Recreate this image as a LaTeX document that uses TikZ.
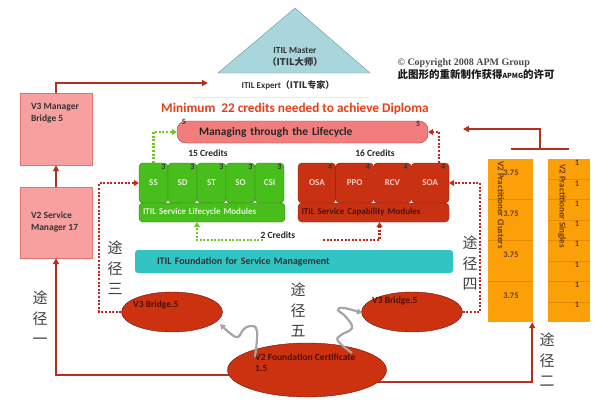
\documentclass[tikz,border=0pt]{standalone}
\usepackage{fontspec}
\setmainfont{Carlito}
\newfontfamily\cjk{Noto Sans CJK SC}
\newfontfamily\serifcopy{Liberation Serif}
\usetikzlibrary{shapes, arrows.meta, positioning, calc}

\definecolor{lineRed}{RGB}{178,48,30}
\definecolor{boxPink}{RGB}{248,160,160}
\definecolor{boxPinkLine}{RGB}{225,115,115}
\definecolor{modGreen}{RGB}{72,190,28}
\definecolor{modGreenLine}{RGB}{45,120,15}
\definecolor{modGreenText}{RGB}{225,245,210}
\definecolor{modRed}{RGB}{200,50,18}
\definecolor{modRedLine}{RGB}{140,28,8}
\definecolor{modRedText}{RGB}{250,205,195}
\definecolor{ellRed}{RGB}{204,50,16}
\definecolor{ellLine}{RGB}{110,20,8}
\definecolor{ellText}{RGB}{80,15,5}
\definecolor{fndTeal}{RGB}{50,195,195}
\definecolor{triTeal}{RGB}{168,214,220}
\definecolor{triLine}{RGB}{110,150,160}
\definecolor{colOrange}{RGB}{252,160,10}
\definecolor{colLine}{RGB}{228,138,0}
\definecolor{colText}{RGB}{110,60,10}
\definecolor{mngPink}{RGB}{242,125,125}
\definecolor{mngLine}{RGB}{170,60,60}
\definecolor{titleRed}{RGB}{232,62,24}
\definecolor{dotGreen}{RGB}{110,200,40}
\definecolor{dotRed}{RGB}{190,40,30}
\definecolor{waveGray}{RGB}{165,165,165}

\begin{document}
\begin{tikzpicture}[x=1pt, y=-1pt,
  redline/.style={draw=lineRed, line width=2pt, -{Triangle[length=6pt,width=6pt]}},
  greendot/.style={draw=dotGreen, line width=2.2pt, dash pattern=on 2pt off 1.6pt, -{Triangle[length=5pt,width=6pt]}},
  reddot/.style={draw=dotRed, line width=2.2pt, dash pattern=on 2pt off 1.6pt, -{Triangle[length=5pt,width=6pt]}},
  wave/.style={draw=waveGray, line width=2.2pt, -{Triangle[length=5pt,width=6pt]}},
  mgrbox/.style={draw=boxPinkLine, fill=boxPink, minimum width=72pt},
  boxtext/.style={align=left, inner sep=0pt, font=\fontsize{9.5}{12}\bfseries\selectfont, text=black!80},
  gmod/.style={draw=modGreenLine, fill=modGreen, rounded corners=4pt, minimum height=40pt, font=\fontsize{9}{10}\bfseries\selectfont, text=modGreenText},
  rmod/.style={draw=modRedLine, fill=modRed, rounded corners=4pt, minimum height=40pt, font=\fontsize{9}{10}\bfseries\selectfont, text=modRedText},
  credit/.style={inner sep=0.5pt, font=\fontsize{8}{8}\bfseries\selectfont, text=black!80},
  credtxt/.style={font=\fontsize{9.5}{11}\bfseries\selectfont, text=black!85},
  ell/.style={ellipse, draw=ellLine, fill=ellRed},
  elltxt/.style={anchor=west, align=left, inner sep=0pt, font=\fontsize{9.5}{11}\bfseries\selectfont, text=ellText},
  colbox/.style={fill=colOrange, draw=none, minimum height=163pt},
  colsep/.style={draw=colLine, line width=0.5pt},
  coltitle/.style={rotate=-90, anchor=west, inner sep=0pt, font=\fontsize{9}{10}\bfseries\selectfont, text=colText},
  valtxt/.style={inner sep=0pt, font=\fontsize{8.5}{9}\bfseries\selectfont, text=colText},
  pathlbl/.style={align=center, inner sep=0pt, font=\cjk\fontsize{15}{20.5}\selectfont, text=black!75}]

  \fill[white] (0,0) rectangle (594,402);
  \useasboundingbox (0,0) rectangle (594,402);

  % top: master triangle, expert, copyright
  \draw[fill=triTeal, draw=triLine] (218,73) -- (295,8) -- (370,73) -- cycle;
  \node[align=center, font=\fontsize{9.3}{12}\bfseries\selectfont, text=black!80] (master) at (295,57)
    {ITIL Master\\{\cjk\bfseries （ITIL大师）}};
  \node[font=\fontsize{9}{10}\bfseries\selectfont, text=black!80] (expert) at (288,85)
    {ITIL Expert{\cjk\bfseries （ITIL专家）}};
  \draw[black!8, line width=0.8pt] (192,97) -- (370,97);
  \node[anchor=west, font=\serifcopy\bfseries\fontsize{10}{12}\selectfont, text=black!70] (copy) at (394,63)
    {© Copyright 2008 APM Group};
  \node[anchor=west, font=\cjk\bfseries\fontsize{10.5}{12}\selectfont, text=black!90] (permit) at (394,75)
    {此图形的重新制作获得{\fontsize{7}{8}\selectfont APMG}的许可};

  \node[font=\bfseries\fontsize{13.3}{15}\selectfont, text=titleRed] (title) at (295,109)
    {Minimum\ \ 22 credits needed to achieve Diploma};

  % manager boxes on the left
  \node[mgrbox, minimum height=72pt] (v3mb) at (56,129) {};
  \node[boxtext, below right=10pt and 11pt of v3mb.north west] {V3 Manager\\Bridge 5};
  \node[mgrbox, minimum height=71pt] (v2sm) at (56,222.5) {};
  \node[boxtext, below right=25pt and 11pt of v2sm.north west] {V2 Service\\Manager 17};

  % managing through the lifecycle
  \node[draw=mngLine, fill=mngPink, rounded corners=9pt, minimum height=22pt, text width=207pt, inner xsep=22pt,
    align=left, font=\fontsize{11.5}{13}\bfseries\selectfont, text=black!85] (manage) at (302.5,132)
    {Managing through the Lifecycle};
  \node[credit] at ([xshift=7pt,yshift=-1pt]manage.north west) {5};
  \node[credit] at ([xshift=-10pt,yshift=-3pt]manage.north east) {5};

  \node[credtxt] (cr15) at (208,153) {15 Credits};
  \node[credtxt] (cr16) at (375,153) {16 Credits};

  % lifecycle modules
  \foreach \m [count=\i] in {SS,SD,ST,SO,CSI} {
    \node[gmod, minimum width=29pt] (g\i) at ({139+29*(\i-0.5)},183) {\m};
    \node[credit, anchor=north east] at ([xshift=-2pt,yshift=-1pt]g\i.north east) {3};
  }
  \node[gmod, minimum width=146pt, minimum height=19pt, text width=138pt, align=left] (gbar) at (212,212.5)
    {ITIL Service Lifecycle Modules};

  % capability modules
  \foreach \m [count=\i] in {OSA,PPO,RCV,SOA} {
    \node[rmod, minimum width=37.75pt] (r\i) at ({298+37.75*(\i-0.5)},183) {\m};
    \node[credit, anchor=north east] at ([xshift=-3pt,yshift=-1pt]r\i.north east) {4};
  }
  \node[rmod, minimum width=151pt, minimum height=19pt, text width=144pt, align=left, text=ellText] (rbar) at (373.5,212.5)
    {ITIL Service Capability Modules};

  \node[credtxt] (cr2) at (278,235) {2 Credits};
  \coordinate (cr2l) at (263,240);
  \coordinate (cr2r) at (323,240);

  % foundation
  \node[fill=fndTeal, rounded corners=3pt, minimum width=318pt, minimum height=23pt, text width=274pt, align=left,
    font=\fontsize{10}{12}\bfseries\selectfont, text=black!80] (fnd) at (294,261.5)
    {ITIL Foundation for Service Management};

  % bridges and V2 foundation
  \node[ell, minimum width=101pt, minimum height=40pt] (b3l) at (172,312) {};
  \node[ell, minimum width=101pt, minimum height=40pt] (b3r) at (412,312) {};
  \node[ell, minimum width=159pt, minimum height=54pt] (v2found) at (307,370) {};
  \node[elltxt] at (133,305) {V3 Bridge.5};
  \node[elltxt] at (372,301) {V3 Bridge.5};
  \node[elltxt] at (255,363) {V2 Foundation Certificate\\1.5};

  % practitioner columns
  \node[colbox, minimum width=45pt] (clus) at (510.5,240.5) {};
  \node[colbox, minimum width=42pt] (sing) at (569,240.5) {};
  \foreach \k in {1,2,3}
    \draw[colsep] ($(clus.north west)!\k/4!(clus.south west)$) -- ($(clus.north east)!\k/4!(clus.south east)$);
  \foreach \k in {1,...,7}
    \draw[colsep] ($(sing.north west)!\k/8!(sing.south west)$) -- ($(sing.north east)!\k/8!(sing.south east)$);
  \foreach \k in {0,...,3}
    \node[valtxt] at (511,{173+40.75*\k}) {3.75};
  \foreach \k in {0,...,7}
    \node[valtxt] at (577,{163+20.3*\k}) {1};
  \node[coltitle] at (501,161) {V2 Practitioner Clusters};
  \node[coltitle] at (562,164) {V2 Practitioner Singles};

  % route labels
  \node[pathlbl] (p1) at (40,318) {途\\径\\一};
  \node[pathlbl] (p2) at (547,360) {途\\径\\二};
  \node[pathlbl] (p3) at (115,268) {途\\径\\三};
  \node[pathlbl] (p4) at (470,263) {途\\径\\四};
  \node[pathlbl] (p5) at (298,310) {途\\径\\五};

  % solid routes
  \coordinate (toexpert) at (208,83);
  \draw[redline] (v3mb.north) |- (toexpert);
  \draw[redline] (v2sm.north) -- (v3mb.south);
  \draw[redline] (v2found.184) -| (v2sm.south);
  \draw[redline] (v2found.-10) -| ([xshift=-1pt]clus.south east);
  \draw[redline, -] ([yshift=10pt]clus.north) -- coordinate[midway] (brk) ([yshift=10pt]sing.north);
  \coordinate (tomanage) at (463,129);
  \draw[redline] (brk) |- (tomanage);

  % dotted routes
  \draw[greendot] (g1.north) |- (manage.west);
  \draw[reddot] ([xshift=9pt]r4.north) |- (manage.east);
  \draw[greendot] (cr2l) -| ([xshift=-15pt]gbar.south);
  \draw[reddot] (cr2r) -| ([xshift=6pt]rbar.south);
  \draw[reddot] (b3l.west) -- ++(-22,0) |- (g1.west);
  \draw[reddot] (b3r.east) -- ++(17,0) |- (r4.east);

  % bridge waves
  \coordinate (w1) at (255,357);
  \coordinate (w2) at (352,353);
  \draw[wave] plot[smooth, tension=0.7] coordinates {(w1) (257,331) (250,326) (243,330) (238,337) (231,334) (220,324)};
  \draw[wave] plot[smooth, tension=0.7] coordinates {(w2) (338,341) (341,335) (352,328) (346,317) (338,310) (344,308) (362,313)};
\end{tikzpicture}
\end{document}
